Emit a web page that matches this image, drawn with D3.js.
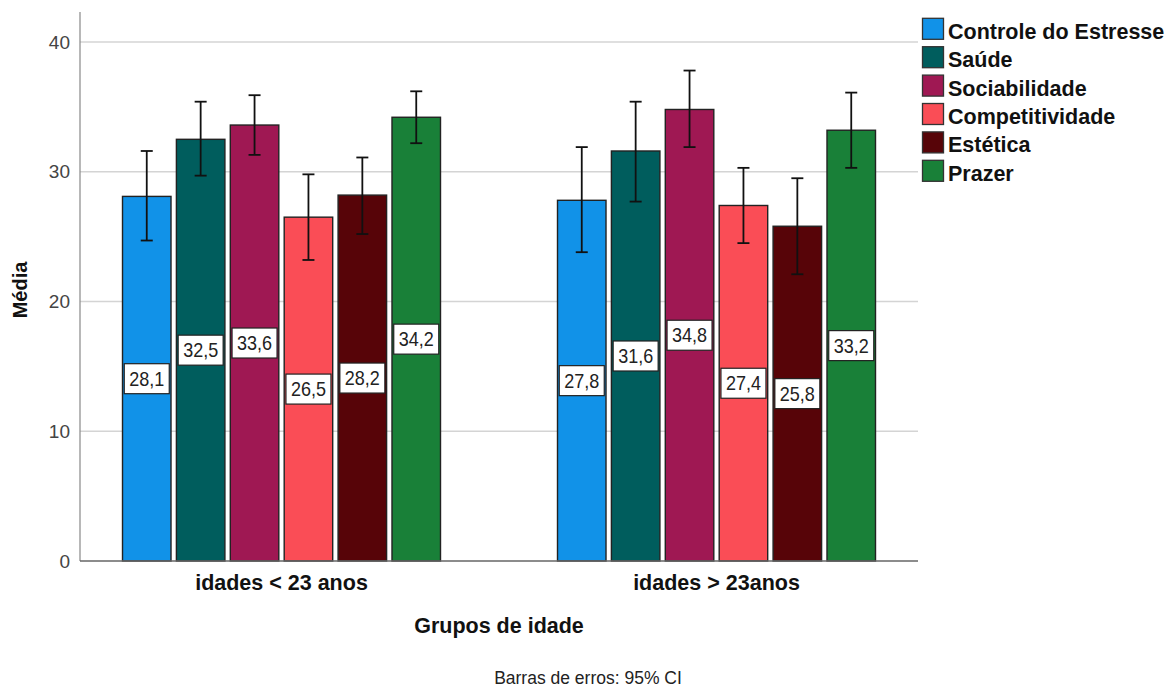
<!DOCTYPE html>
<html><head><meta charset="utf-8">
<script src="https://cdn.jsdelivr.net/npm/d3@7"></script>
<style>body{margin:0;background:#fff}svg{display:block}</style>
</head><body>
<svg id="c" width="1174" height="687"></svg>
<script>
const groups = ["idades < 23 anos", "idades > 23anos"];
const series = ["Controle do Estresse", "Saúde", "Sociabilidade", "Competitividade", "Estética", "Prazer"];
const colors = ["#1192e8", "#005d5d", "#9f1853", "#fa4d56", "#570408", "#198038"];
const means = [
  [28.1, 32.5, 33.6, 26.5, 28.2, 34.2],
  [27.8, 31.6, 34.8, 27.4, 25.8, 33.2]
];
const ciLow = [
  [24.7, 29.7, 31.3, 23.2, 25.2, 32.2],
  [23.8, 27.7, 31.9, 24.5, 22.1, 30.3]
];
const ciHigh = [
  [31.6, 35.4, 35.9, 29.8, 31.1, 36.2],
  [31.9, 35.4, 37.8, 30.3, 29.5, 36.1]
];
const yTicks = [0, 10, 20, 30, 40];

const svg = d3.select("#c");
const font = "'Liberation Sans', Arial, sans-serif";
const plotL = 80, plotR = 918, plotT = 12, plotB = 561;

const y = d3.scaleLinear().domain([0, 40]).range([plotB, 42]);
const x0 = d3.scaleBand().domain(groups).range([64, 934]).paddingInner(0).paddingOuter(0);
const x1 = d3.scaleBand().domain(series).range([0, 318]).paddingInner(0.1);
const gOff = (x0.bandwidth() - 318) / 2;

// gridlines
svg.append("g").selectAll("line").data(yTicks.filter(d => d > 0)).join("line")
  .attr("x1", plotL).attr("x2", plotR)
  .attr("y1", d => y(d)).attr("y2", d => y(d))
  .attr("stroke", "#d4d4d4").attr("stroke-width", 1.6);

// y axis
const yAxis = d3.axisLeft(y).tickValues(yTicks).tickSize(0).tickPadding(10).tickFormat(d3.format("d"));
const ya = svg.append("g").attr("transform", `translate(${plotL},0)`).call(yAxis);
ya.select(".domain").remove();
ya.selectAll("text").attr("font-family", font).attr("font-size", 19).attr("fill", "#444");
svg.append("line").attr("x1", plotL).attr("x2", plotL).attr("y1", plotT).attr("y2", plotB)
  .attr("stroke", "#888").attr("stroke-width", 1.2);

// bars
const data = [];
groups.forEach((g, gi) => series.forEach((s, si) => data.push({
  g, s, si, v: means[gi][si], lo: ciLow[gi][si], hi: ciHigh[gi][si]
})));
const bx = d => x0(d.g) + gOff + x1(d.s);

svg.append("g").selectAll("rect").data(data).join("rect")
  .attr("x", bx).attr("width", x1.bandwidth())
  .attr("y", d => y(d.v)).attr("height", d => y(0) - y(d.v))
  .attr("fill", d => colors[d.si]).attr("stroke", "#222").attr("stroke-width", 1.4);

// x axis line
svg.append("line").attr("x1", plotL).attr("x2", plotR).attr("y1", plotB).attr("y2", plotB)
  .attr("stroke", "#666").attr("stroke-width", 1.3);

// error bars
const eb = svg.append("g").attr("stroke", "#111").attr("stroke-width", 1.8);
data.forEach(d => {
  const cx = bx(d) + x1.bandwidth() / 2;
  eb.append("line").attr("x1", cx).attr("x2", cx).attr("y1", y(d.hi)).attr("y2", y(d.lo));
  eb.append("line").attr("x1", cx - 6).attr("x2", cx + 6).attr("y1", y(d.hi)).attr("y2", y(d.hi));
  eb.append("line").attr("x1", cx - 6).attr("x2", cx + 6).attr("y1", y(d.lo)).attr("y2", y(d.lo));
});

// value labels
const fmt = v => d3.format(".1f")(v).replace(".", ",");
const lab = svg.append("g");
data.forEach(d => {
  const cx = bx(d) + x1.bandwidth() / 2;
  const cy = y(d.v / 2);
  lab.append("rect").attr("x", cx - 22.5).attr("y", cy - 15).attr("width", 45).attr("height", 30)
    .attr("fill", "#fff").attr("stroke", "#222").attr("stroke-width", 1.2);
  lab.append("text").attr("transform", `translate(${cx},${cy + 7}) scale(0.9,1)`)
    .attr("text-anchor", "middle")
    .attr("font-family", font).attr("font-size", 20).attr("fill", "#222").text(fmt(d.v));
});

// x tick labels
svg.append("g").selectAll("text").data(groups).join("text")
  .attr("x", d => x0(d) + x0.bandwidth() / 2).attr("y", 590)
  .attr("text-anchor", "middle").attr("font-family", font).attr("font-weight", "bold")
  .attr("font-size", 21.5).attr("fill", "#111").text(d => d);

// axis titles
svg.append("text").attr("x", 499).attr("y", 633).attr("text-anchor", "middle")
  .attr("font-family", font).attr("font-weight", "bold").attr("font-size", 21.5).attr("fill", "#111")
  .text("Grupos de idade");
svg.append("text").attr("transform", "translate(27,290) rotate(-90)").attr("text-anchor", "middle")
  .attr("font-family", font).attr("font-weight", "bold").attr("font-size", 20).attr("fill", "#111")
  .text("Média");
svg.append("text").attr("x", 588).attr("y", 684).attr("text-anchor", "middle")
  .attr("font-family", font).attr("font-size", 17.5).attr("fill", "#222")
  .text("Barras de erros: 95% CI");

// legend
const lg = svg.append("g");
series.forEach((s, i) => {
  const ly = 28.8 + i * 28.4;
  lg.append("rect").attr("x", 922.5).attr("y", ly - 10.5).attr("width", 21).attr("height", 21)
    .attr("fill", colors[i]).attr("stroke", "#333").attr("stroke-width", 1.3);
  lg.append("text").attr("x", 948).attr("y", ly + 10).attr("font-family", font)
    .attr("font-weight", "bold").attr("font-size", 21.5).attr("fill", "#111").text(s);
});
</script>
</body></html>
